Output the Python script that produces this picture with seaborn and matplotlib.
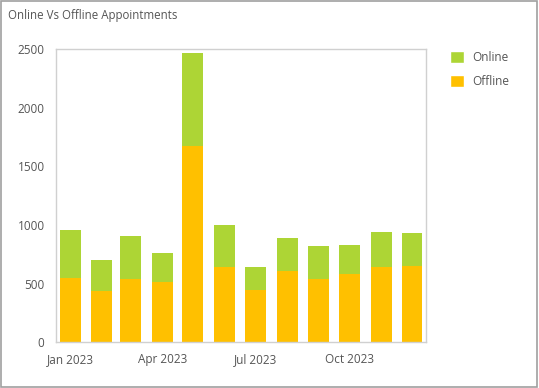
import matplotlib
matplotlib.use('Agg')
import matplotlib.pyplot as plt
import matplotlib.dates as mdates
from matplotlib.patches import Patch, Rectangle
import seaborn as sns
import numpy as np
import pandas as pd

months = pd.date_range('2023-01-01', periods=12, freq='MS')
offline = [551, 438, 540, 517, 1675, 643, 449, 608, 540, 586, 643, 654]
online = [407, 264, 367, 245, 793, 358, 194, 282, 282, 244, 298, 279]
tick_months = ['2023-01-01', '2023-04-01', '2023-07-01', '2023-10-01']

GREEN = '#add535'
ORANGE = '#ffc000'
TEXT = '#555555'

sns.set_theme(style='white')
plt.rcParams['font.family'] = ['Open Sans', 'DejaVu Sans']

df = pd.DataFrame({'month': mdates.date2num(months), 'offline': offline, 'online': online})
df['total'] = df['offline'] + df['online']

fig = plt.figure(figsize=(5.39, 3.88), dpi=100)
ax = fig.add_axes([0.1034, 0.1178, 0.6876, 0.7552])

# stacked look: total in green, offline drawn over it
sns.barplot(data=df, x='month', y='total', native_scale=True, orient='x',
            color=GREEN, saturation=1, width=0.73, linewidth=0, ax=ax)
sns.barplot(data=df, x='month', y='offline', native_scale=True, orient='x',
            color=ORANGE, saturation=1, width=0.73, linewidth=0, ax=ax)

ax.set_xlim(mdates.date2num(pd.Timestamp('2022-12-18')), mdates.date2num(pd.Timestamp('2023-12-15')))
ax.set_ylim(0, 2500)
ax.set_yticks([0, 500, 1000, 1500, 2000, 2500])
ax.set_xticks(mdates.date2num(pd.to_datetime(tick_months)))
ax.xaxis.set_major_formatter(mdates.DateFormatter('%b %Y'))
ax.set_xlabel('')
ax.set_ylabel('')
ax.tick_params(axis='both', length=0, labelsize=8.5, labelcolor=TEXT)
ax.tick_params(axis='y', pad=8)
ax.tick_params(axis='x', pad=8)
for s in ax.spines.values():
    s.set_color('#d0d0d0')
    s.set_linewidth(1)

handles = [Patch(facecolor=GREEN, label='Online'), Patch(facecolor=ORANGE, label='Offline')]
fig.legend(handles=handles, loc='upper left', bbox_to_anchor=(0.815, 0.895), frameon=False,
           fontsize=8.5, labelcolor=TEXT, handlelength=1.2, handleheight=1.2,
           handletextpad=0.7, labelspacing=0.9)

fig.text(0.015, 0.96, 'Online Vs Offline Appointments', fontsize=8.3, color=TEXT, va='center', ha='left')

fig.patches.append(Rectangle((0.002, 0.003), 0.995, 0.995, transform=fig.transFigure,
                             fill=False, edgecolor='#a0a0a0', linewidth=1.2))

fig.savefig('out.png', dpi=100)
